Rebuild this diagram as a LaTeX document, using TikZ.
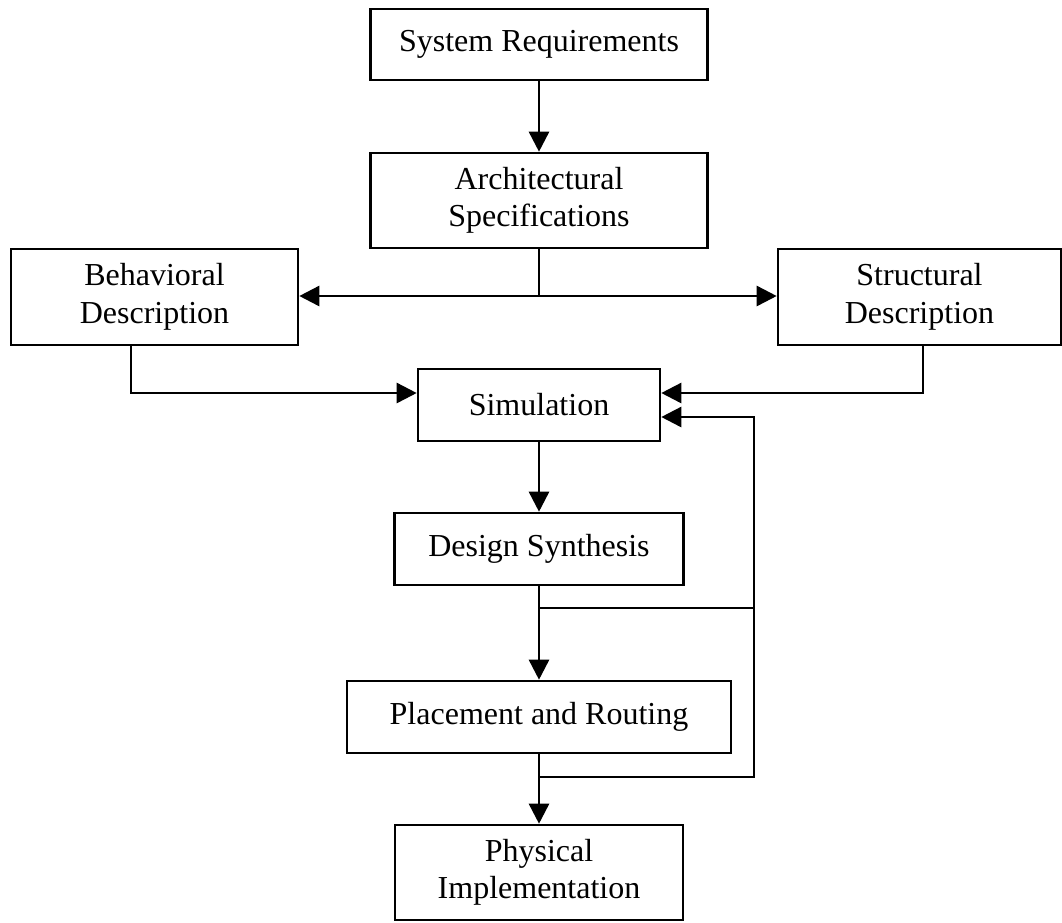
\documentclass[tikz,border=0pt]{standalone}
\usepackage{fontspec}
\setmainfont{Liberation Serif}
\usetikzlibrary{arrows.meta}
\begin{document}
\begin{tikzpicture}[x=1pt,y=-1pt,
  box/.style={draw,line width=2.6pt,inner sep=0pt,align=center,
    font=\fontsize{32}{37.5}\selectfont},
  conn/.style={line width=2.6pt},
  arr/.style={conn,-{Triangle[length=20pt,width=20pt]}}]
\useasboundingbox (0,0) rectangle (1062,922);
\node[box,minimum width=337pt,minimum height=71pt] (SR) at (539,44.5) {System Requirements};
\node[box,minimum width=337pt,minimum height=95pt] (AS) at (539,200.5) {Architectural\\Specifications};
\node[box,minimum width=287pt,minimum height=96pt] (BD) at (154.5,297) {Behavioral\\Description};
\node[box,minimum width=283pt,minimum height=96pt] (SD) at (919.5,297) {Structural\\Description};
\node[box,minimum width=242pt,minimum height=72pt] (SI) at (539,405) {Simulation};
\node[box,minimum width=289pt,minimum height=72pt] (DS) at (539,549) {Design Synthesis};
\node[box,minimum width=384pt,minimum height=72pt] (PR) at (539,717) {Placement and Routing};
\node[box,minimum width=288pt,minimum height=95pt] (PI) at (539,872.5) {Physical\\Implementation};
\coordinate (ja) at (539,296);
\coordinate (j1) at (539,608);
\coordinate (j2) at (539,777);
\coordinate (lp) at (754,777);
\draw[arr] (SR) -- (AS);
\draw[conn] (AS.south) -- (ja);
\draw[arr] (ja) -- (ja -| BD.east);
\draw[arr] (ja) -- (ja -| SD.west);
\draw[arr] ([xshift=-23.5pt]BD.south) |- ([yshift=12pt]SI.west);
\draw[arr] ([xshift=3.5pt]SD.south) |- ([yshift=12pt]SI.east);
\draw[arr] (SI) -- (DS);
\draw[arr] (DS) -- (PR);
\draw[arr] (PR) -- (PI);
\draw[conn] (j1) -- (j1 -| lp);
\draw[arr] (j2) -- (lp) |- ([yshift=-12pt]SI.east);
\end{tikzpicture}
\end{document}
